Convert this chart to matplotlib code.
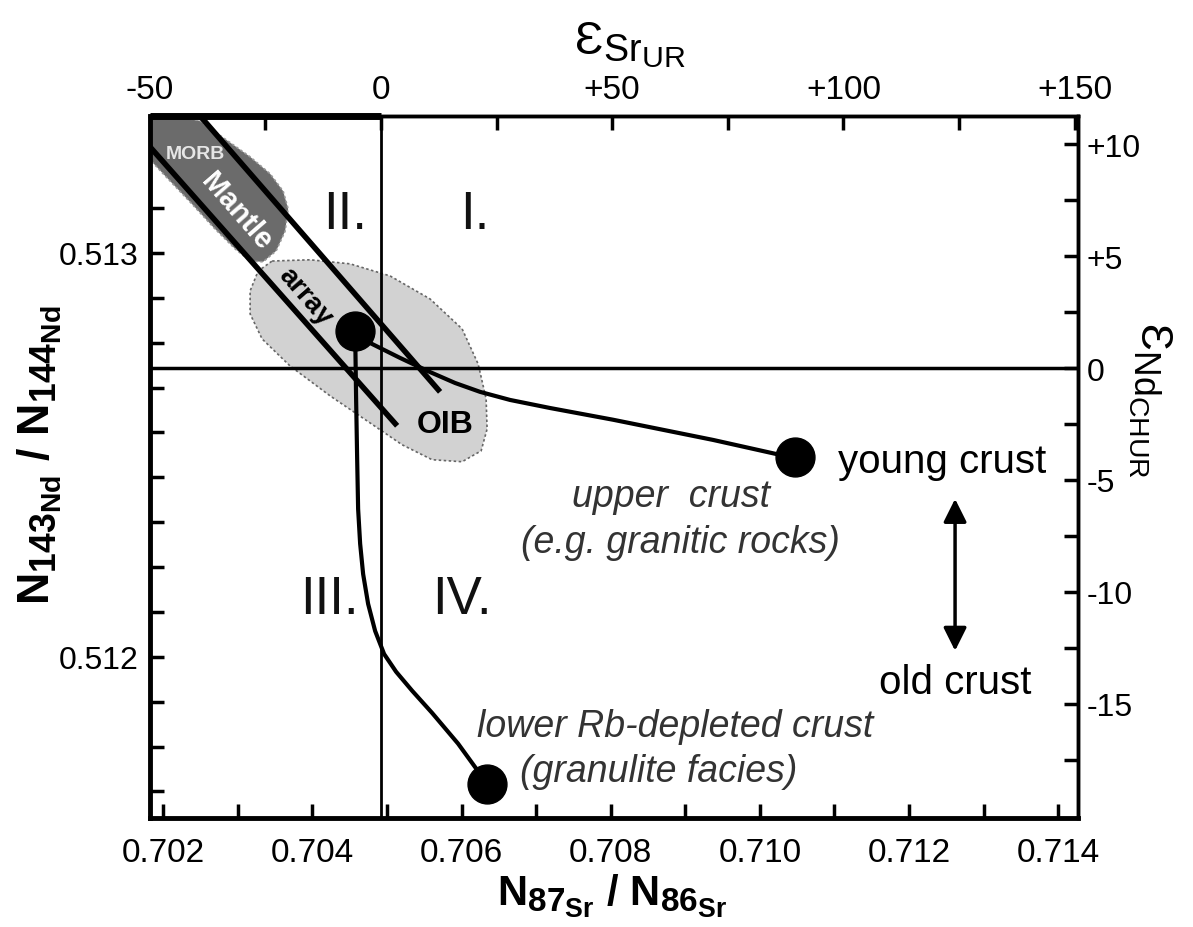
## Sr-Nd isotope correlation diagram with mantle array and crustal mixing curves
import numpy as np
import matplotlib.pyplot as plt
import matplotlib._mathtext as mathtext_internals
from matplotlib.patches import Polygon, FancyArrowPatch
from matplotlib.ticker import FixedLocator, MultipleLocator, FuncFormatter

plt.rcParams['font.family'] = ['Liberation Sans', 'DejaVu Sans']
plt.rcParams['mathtext.fontset'] = 'custom'
plt.rcParams['mathtext.rm'] = 'Liberation Sans'
plt.rcParams['mathtext.bf'] = 'Liberation Sans:bold'
plt.rcParams['mathtext.it'] = 'Liberation Sans:italic'
plt.rcParams['axes.unicode_minus'] = False
# isotope subscripts are only slightly smaller than the element symbol
mathtext_internals.SHRINK_FACTOR = 0.8

# reference reservoirs and epsilon scale factors (per unit of ratio)
sr_ur = 0.70492
nd_chur = 0.512715
eps_sr_scale = 16130.
eps_nd_scale = 18040.

# mantle (MORB) field outline
mantle_x = [0.701826, 0.702161, 0.702496, 0.702831, 0.703166, 0.703434, 0.703609, 0.703676, 0.703635,
            0.703515, 0.703340, 0.703166, 0.702965, 0.702697, 0.702362, 0.702067, 0.701853, 0.701826]
mantle_y = [0.513337, 0.513339, 0.513327, 0.513282, 0.513238, 0.513196, 0.513153, 0.513109, 0.513054,
            0.513005, 0.512978, 0.512980, 0.513010, 0.513059, 0.513126, 0.513183, 0.513225, 0.513257]
# OIB field outline
oib_x = [0.703461, 0.703971, 0.704507, 0.705043, 0.705579, 0.706008, 0.706223, 0.706330, 0.706343, 0.706263,
         0.706008, 0.705606, 0.705204, 0.704775, 0.704239, 0.703702, 0.703327, 0.703166, 0.703166, 0.703273]
oib_y = [0.512980, 0.512983, 0.512973, 0.512943, 0.512886, 0.512812, 0.512725, 0.512639, 0.512564, 0.512510,
         0.512483, 0.512488, 0.512525, 0.512579, 0.512646, 0.512720, 0.512787, 0.512849, 0.512906, 0.512955]
# mantle array boundaries
array_lo_x = [0.701826, 0.705137]
array_lo_y = [0.513262, 0.512572]
array_hi_x = [0.702496, 0.705713]
array_hi_y = [0.513339, 0.512656]

# end members
bse = (0.704574, 0.512807)
young_crust = (0.710472, 0.512495)
lower_crust = (0.706343, 0.511686)

# mixing curves
upper_mix_x = [bse[0], 0.704775, 0.705177, 0.705579, 0.705914, 0.706249, 0.706651, 0.707188, 0.708032,
               0.709373, 0.710271, young_crust[0]]
upper_mix_y = [bse[1], 0.512777, 0.512740, 0.512705, 0.512678, 0.512656, 0.512636, 0.512616, 0.512587,
               0.512537, 0.512500, young_crust[1]]
lower_mix_x = [bse[0], 0.704587, 0.704601, 0.704614, 0.704641, 0.704681, 0.704748, 0.704842, 0.704962,
               0.705123, 0.705338, 0.705606, 0.705954, lower_crust[0]]
lower_mix_y = [bse[1], 0.512639, 0.512490, 0.512366, 0.512280, 0.512205, 0.512131, 0.512064, 0.512007,
               0.511963, 0.511916, 0.511861, 0.511785, lower_crust[1]]

# crustal evolution arrow
age_arrow_x = 0.712617
age_arrow_y = [0.512391, 0.512015]

quadrants = ['I.', 'II.', 'III.', 'IV.']
quadrant_x = [0.706182, 0.704440, 0.704225, 0.706008]
quadrant_y = [0.513097, 0.513097, 0.512144, 0.512144]

fig = plt.figure(figsize=(11.93, 9.28), dpi=100)
ax = fig.add_axes([0.1255, 0.1175, 0.7781, 0.7564])
ax.set_xlim(0.70182, 0.714265)
ax.set_ylim(0.511601, 0.513339)

# fields
ax.add_patch(Polygon(np.column_stack([oib_x, oib_y]), closed=True, facecolor='#d2d2d2',
                     edgecolor='#666666', lw=1.2, ls=(0, (1.5, 1.5)), zorder=1))
ax.add_patch(Polygon(np.column_stack([mantle_x, mantle_y]), closed=True, facecolor='#6b6b6b',
                     edgecolor='#999999', lw=1.2, ls=(0, (1.5, 1.5)), zorder=2))

# reservoir lines
ax.axvline(sr_ur, color='k', lw=2, zorder=3)
ax.axhline(nd_chur, color='k', lw=2.5, zorder=3)
ax.plot([ax.get_xlim()[0], sr_ur], [ax.get_ylim()[1]] * 2, color='k', lw=5, clip_on=False,
        solid_capstyle='butt', zorder=6)

ax.plot(array_lo_x, array_lo_y, color='k', lw=4, solid_capstyle='butt', zorder=4)
ax.plot(array_hi_x, array_hi_y, color='k', lw=4, solid_capstyle='butt', zorder=4)

ax.plot(upper_mix_x, upper_mix_y, color='k', lw=3, solid_joinstyle='round', zorder=4)
ax.plot(lower_mix_x, lower_mix_y, color='k', lw=3, solid_joinstyle='round', zorder=4)
for pt in [bse, young_crust, lower_crust]:
    ax.plot(pt[0], pt[1], 'o', color='k', ms=28, zorder=5)

ax.add_patch(FancyArrowPatch((age_arrow_x, age_arrow_y[0]), (age_arrow_x, age_arrow_y[1]),
                             arrowstyle='<|-|>,head_length=0.7,head_width=0.35', mutation_scale=20,
                             color='k', lw=2.5, shrinkA=0, shrinkB=0, zorder=5))

# labels inside the plot
ax.text(0.702429, 0.513245, 'MORB', color='#e6e6e6', fontsize=14, fontweight='bold',
        ha='center', va='center', zorder=7)
ax.text(0.702979, 0.513104, 'Mantle', color='white', fontsize=21, fontweight='bold',
        rotation=-49, rotation_mode='anchor', ha='center', va='center', zorder=7)
ax.text(0.703903, 0.512894, 'array', color='k', fontsize=20, fontweight='bold',
        rotation=-49, rotation_mode='anchor', ha='center', va='center', zorder=7)
ax.text(0.705780, 0.512577, 'OIB', color='k', fontsize=23, fontweight='bold',
        ha='center', va='center', zorder=7)
for lab, qx, qy in zip(quadrants, quadrant_x, quadrant_y):
    ax.text(qx, qy, lab, fontsize=38, ha='center', va='center', color='#111111',
            family=['Liberation Sans Narrow', 'Liberation Sans'])

ax.text(0.711048, 0.512485, 'young crust', fontsize=29, ha='left', va='center')
ax.text(age_arrow_x, 0.511938, 'old crust', fontsize=29, ha='center', va='center')
ax.text(0.708810, 0.512399, 'upper  crust', fontsize=27, style='italic', color='#333333',
        ha='center', va='center')
ax.text(0.708930, 0.512285, '(e.g. granitic rocks)', fontsize=27, style='italic', color='#333333',
        ha='center', va='center')
ax.text(0.708863, 0.511829, 'lower Rb-depleted crust', fontsize=27, style='italic', color='#333333',
        ha='center', va='center')
ax.text(0.708649, 0.511718, '(granulite facies)', fontsize=27, style='italic', color='#333333',
        ha='center', va='center')

# ratio axes
ax.xaxis.set_major_locator(FixedLocator(np.arange(0.702, 0.7145, 0.002)))
ax.xaxis.set_minor_locator(MultipleLocator(0.001))
ax.xaxis.set_major_formatter(FuncFormatter(lambda v, p: f'{v:.3f}'))
ax.yaxis.set_major_locator(FixedLocator([0.512, 0.513]))
ax.yaxis.set_minor_locator(FixedLocator(0.512 + np.arange(-3, 11) * 0.001 / 9))
ax.yaxis.set_major_formatter(FuncFormatter(lambda v, p: f'{v:.3f}'))
ax.tick_params(which='both', direction='in', length=10, width=2.5, top=False, right=False)
ax.tick_params(axis='x', which='major', labelsize=24, pad=14)
ax.tick_params(axis='y', which='major', labelsize=23, pad=8)
for side, w in [('left', 3.5), ('bottom', 3.5), ('top', 2.5), ('right', 2.5)]:
    ax.spines[side].set_linewidth(w)

def signed(v, p):
    v = int(round(v))
    return f'+{v}' if v > 0 else f'{v}'

# epsilon axes
secx = ax.secondary_xaxis('top', functions=(lambda x: (x - sr_ur) * eps_sr_scale,
                                             lambda e: e / eps_sr_scale + sr_ur))
secx.xaxis.set_major_locator(FixedLocator([-50, 0, 50, 100, 150]))
secx.xaxis.set_minor_locator(FixedLocator(np.arange(-50, 151, 25)))
secx.xaxis.set_major_formatter(FuncFormatter(signed))
secx.tick_params(which='both', direction='in', length=10, width=2.5)
secx.tick_params(which='major', labelsize=24, pad=8)
secx.spines['top'].set_linewidth(2.5)

secy = ax.secondary_yaxis('right', functions=(lambda y: (y - nd_chur) * eps_nd_scale,
                                               lambda e: e / eps_nd_scale + nd_chur))
secy.yaxis.set_major_locator(FixedLocator([-15, -10, -5, 0, 5, 10]))
secy.yaxis.set_minor_locator(FixedLocator(np.arange(-17.5, 10.1, 2.5)))
secy.yaxis.set_major_formatter(FuncFormatter(signed))
secy.tick_params(which='both', direction='in', length=10, width=2.5)
secy.tick_params(which='major', labelsize=23, pad=6)
secy.spines['right'].set_linewidth(2.5)

# axis titles
fig.text(612 / 1193, 1 - 906 / 928, r'$\mathbf{N_{87_{Sr}}\ /\ N_{86_{Sr}}}$', fontsize=30,
         ha='center', va='baseline')
fig.text(40 / 1193, 1 - 455 / 928, r'$\mathbf{N_{143_{Nd}}\ /\ N_{144_{Nd}}}$', fontsize=32,
         ha='center', va='center', rotation=90)
fig.text(630 / 1193, 1 - 45 / 928, r'$\mathrm{Ɛ}_{\mathrm{Sr}_{\mathrm{UR}}}$', fontsize=34,
         ha='center', va='center')
fig.text(1150 / 1193, 1 - 400 / 928, r'$\mathrm{Ɛ}_{\mathrm{Nd}_{\mathrm{CHUR}}}$', fontsize=32,
         ha='center', va='center', rotation=-90)

fig.savefig('out.png', dpi=100)
